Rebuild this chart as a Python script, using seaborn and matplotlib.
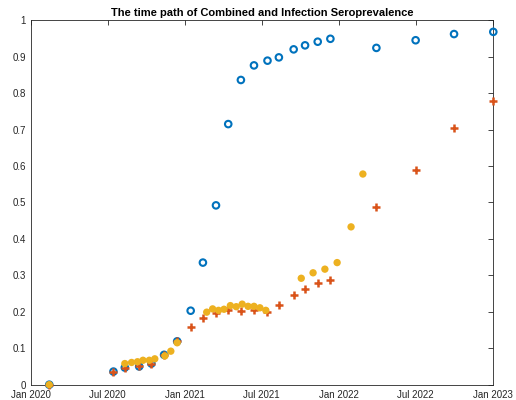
import pandas as pd
import matplotlib
matplotlib.use("Agg")
import matplotlib.pyplot as plt
import matplotlib.dates as mdates
import matplotlib.ticker as mticker
import seaborn as sns

# --- data ---

survey_dates = ["2020-02-14", "2020-07-15", "2020-08-11", "2020-09-14", "2020-10-13",
                "2020-11-12", "2020-12-13", "2021-01-14", "2021-02-12", "2021-03-15",
                "2021-04-13", "2021-05-13", "2021-06-13", "2021-07-15", "2021-08-11",
                "2021-09-15", "2021-10-12", "2021-11-11", "2021-12-11", "2022-03-30",
                "2022-07-01", "2022-09-30", "2023-01-01"]

combined = [0.0, 0.036, 0.047, 0.050, 0.058, 0.082, 0.119, 0.203, 0.335, 0.492,
            0.715, 0.836, 0.876, 0.889, 0.898, 0.920, 0.931, 0.941, 0.949, 0.924,
            0.945, 0.962, 0.968]

infection = [0.0, 0.036, 0.047, 0.050, 0.058, 0.082, 0.119, 0.159, 0.184, 0.196,
             0.205, 0.201, 0.204, 0.199, 0.220, 0.245, 0.262, 0.278, 0.287, 0.488,
             0.588, 0.703, 0.778]

other_dates = ["2020-02-14", "2020-08-11", "2020-08-27", "2020-09-10", "2020-09-23",
               "2020-10-08", "2020-10-21", "2020-11-14", "2020-11-28", "2020-12-13",
               "2021-02-21", "2021-03-07", "2021-03-21", "2021-04-03", "2021-04-18",
               "2021-05-02", "2021-05-16", "2021-05-30", "2021-06-13", "2021-06-27",
               "2021-07-11", "2021-10-03", "2021-10-31", "2021-11-28", "2021-12-27",
               "2022-01-29", "2022-02-26"]

other_vals = [0.0, 0.058, 0.061, 0.063, 0.067, 0.067, 0.071, 0.079, 0.092, 0.115,
              0.199, 0.208, 0.204, 0.207, 0.217, 0.214, 0.221, 0.215, 0.215, 0.211,
              0.204, 0.292, 0.307, 0.317, 0.335, 0.433, 0.578]

tick_dates = ["2020-01-01", "2020-07-01", "2021-01-01", "2021-07-01",
              "2022-01-01", "2022-07-01", "2023-01-01"]

df_main = pd.DataFrame({"date": pd.to_datetime(survey_dates),
                        "combined": combined, "infection": infection})
df_other = pd.DataFrame({"date": pd.to_datetime(other_dates), "value": other_vals})

# --- style (MATLAB-like) ---

sns.set_style("white")
plt.rcParams["font.family"] = ["Liberation Sans", "DejaVu Sans"]
plt.rcParams["xtick.direction"] = "in"
plt.rcParams["ytick.direction"] = "in"

fig = plt.figure(figsize=(5.16, 4.0), dpi=100)
ax = fig.add_axes([30.7 / 516, 1 - 384.7 / 400, 462.6 / 516, 364.5 / 400])

blue = "#0072BD"
red = "#D95319"
yellow = "#EDB120"

sns.scatterplot(data=df_main, x="date", y="combined", ax=ax, marker="o", s=22,
                color=blue, facecolor="none", edgecolor=blue, linewidth=1.5,
                clip_on=False, zorder=3)
sns.scatterplot(data=df_main, x="date", y="infection", ax=ax, marker="+", s=26,
                color=red, edgecolor=red, linewidth=1.8,
                clip_on=False, zorder=4)
sns.scatterplot(data=df_other, x="date", y="value", ax=ax, marker="o", s=28,
                color=yellow, edgecolor="none", linewidth=0,
                clip_on=False, zorder=5)

ax.set_xlim(pd.Timestamp(tick_dates[0]), pd.Timestamp(tick_dates[-1]))
ax.set_ylim(0, 1)
ax.set_xticks(pd.to_datetime(tick_dates))
ax.xaxis.set_major_formatter(mdates.DateFormatter("%b %Y"))
ax.yaxis.set_major_locator(mticker.MultipleLocator(0.1))
ax.yaxis.set_major_formatter(mticker.FuncFormatter(lambda v, _: f"{v:g}"))

ax.tick_params(axis="both", which="both", top=True, right=True, length=3.5,
               width=0.6, color="#262626", labelsize=7, labelcolor="#262626")
ax.tick_params(axis="x", pad=4)
ax.tick_params(axis="y", pad=3.3)
for sp in ax.spines.values():
    sp.set_visible(True)
    sp.set_color("#262626")
    sp.set_linewidth(0.6)

ax.set_xlabel("")
ax.set_ylabel("")
ax.set_title("The time path of Combined and Infection Seroprevalence",
             fontsize=8, fontweight="bold", color="black", pad=3)

plt.savefig("out.png", dpi=100)
